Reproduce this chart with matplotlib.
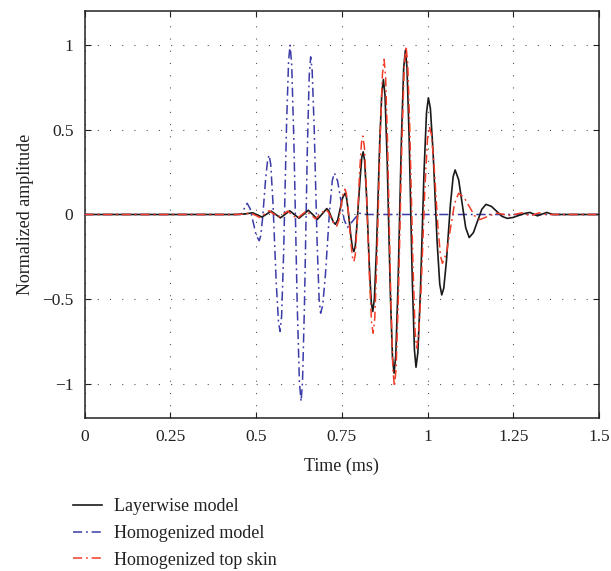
import matplotlib
matplotlib.use("Agg")
import matplotlib.pyplot as plt
from matplotlib.lines import Line2D

# ---------------- data ----------------
x_ticks = [0, 0.25, 0.5, 0.75, 1, 1.25, 1.5]
x_tick_labels = ["0", "0.25", "0.5", "0.75", "1", "1.25", "1.5"]
y_ticks = [-1, -0.5, 0, 0.5, 1]
y_tick_labels = ["\u22121", "\u22120.5", "0", "0.5", "1"]

series_names = ["Layerwise model", "Homogenized model", "Homogenized top skin"]

# Layerwise model (black, solid)
layer_t = [0.0, 0.44, 0.465, 0.490, 0.5035, 0.517, 0.5305, 0.544, 0.5575, 0.571,
           0.5845, 0.598, 0.6115, 0.625, 0.6385, 0.652, 0.6655, 0.679, 0.6925, 0.706,
           0.712, 0.7185, 0.725, 0.731,
           0.738, 0.745, 0.752, 0.759,
           0.763, 0.768, 0.772, 0.776, 0.781, 0.785,
           0.789, 0.794, 0.7985, 0.803, 0.808, 0.812,
           0.8162, 0.8218, 0.826, 0.8302, 0.8358, 0.840,
           0.8447, 0.8509, 0.8555, 0.8602, 0.8664, 0.871,
           0.8757, 0.8819, 0.8865, 0.8912, 0.8974, 0.902,
           0.907, 0.9136, 0.9185, 0.9235, 0.9301, 0.935,
           0.9397, 0.9459, 0.9505, 0.9552, 0.9614, 0.966,
           0.9714, 0.9786, 0.984, 0.9894, 0.9966, 1.002,
           1.0079, 1.0157, 1.0215, 1.0274, 1.0352, 1.041,
           1.0469, 1.0547, 1.0605, 1.0664, 1.0742, 1.080,
           1.0903, 1.1005, 1.1108, 1.121,
           1.1333, 1.1455, 1.1578, 1.170,
           1.1855, 1.201, 1.2165, 1.232,
           1.248, 1.265, 1.282, 1.298, 1.309, 1.320, 1.333, 1.347, 1.365, 1.5]
layer_a = [0.0, 0.0, 0.003, 0.010, -0.002, -0.015, 0.002, 0.020, 0.0, -0.020,
           0.001, 0.022, 0.0, -0.022, 0.001, 0.025, -0.001, -0.028, 0.003, 0.035,
           0.021, -0.012, -0.044, -0.058,
           -0.031, 0.034, 0.098, 0.125,
           0.106, 0.031, -0.047, -0.125, -0.200, -0.219,
           -0.187, -0.058, 0.076, 0.209, 0.338, 0.370,
           0.319, 0.113, -0.102, -0.316, -0.522, -0.573,
           -0.498, -0.199, 0.112, 0.423, 0.722, 0.797,
           0.703, 0.324, -0.070, -0.464, -0.843, -0.937,
           -0.833, -0.416, 0.017, 0.449, 0.866, 0.970,
           0.868, 0.459, 0.034, -0.391, -0.800, -0.902,
           -0.815, -0.468, -0.107, 0.255, 0.602, 0.689,
           0.626, 0.371, 0.107, -0.157, -0.412, -0.475,
           -0.435, -0.274, -0.106, 0.062, 0.223, 0.263,
           0.205, 0.064, -0.078, -0.136,
           -0.107, -0.038, 0.031, 0.060,
           0.048, 0.019, -0.011, -0.023,
           -0.018, -0.006, 0.006, 0.012, 0.002, -0.008, 0.002, 0.012, 0.0, 0.0]

# Homogenized model (blue, dash-dot)
homog_t = [0.0, 0.455, 0.460, 0.465, 0.470, 0.474,
           0.4828, 0.4915, 0.5003, 0.509,
           0.5134, 0.5192, 0.5235, 0.5279, 0.5337, 0.538,
           0.5428, 0.5492, 0.554, 0.5588, 0.5652, 0.570,
           0.5744, 0.5802, 0.5845, 0.5889, 0.5947, 0.599,
           0.6038, 0.6102, 0.615, 0.6198, 0.6262, 0.631,
           0.6352, 0.6408, 0.645, 0.6492, 0.6548, 0.659,
           0.6634, 0.6692, 0.6735, 0.6779, 0.6837, 0.688,
           0.694, 0.702, 0.708, 0.714, 0.722, 0.728,
           0.7375, 0.747, 0.7565, 0.766,
           0.783, 0.800, 0.820, 1.5]
homog_a = [0.0, 0.0, 0.010, 0.033, 0.056, 0.066,
           0.034, -0.045, -0.123, -0.155,
           -0.127, -0.017, 0.098, 0.213, 0.323, 0.351,
           0.294, 0.067, -0.170, -0.407, -0.634, -0.691,
           -0.599, -0.229, 0.155, 0.538, 0.908, 1.000,
           0.885, 0.426, -0.052, -0.530, -0.989, -1.104,
           -0.993, -0.548, -0.087, 0.375, 0.820, 0.931,
           0.849, 0.518, 0.174, -0.170, -0.501, -0.583,
           -0.538, -0.357, -0.169, 0.019, 0.200, 0.245,
           0.198, 0.084, -0.030, -0.077,
           -0.035, 0.008, 0.0, 0.0]

# Homogenized top skin (red, dash-dot)
skin_t = [0.0, 0.44, 0.462, 0.484, 0.4975, 0.511, 0.5245, 0.538, 0.5515, 0.565,
          0.5785, 0.592, 0.6055, 0.619, 0.6325, 0.646, 0.6595, 0.673, 0.6875, 0.702,
          0.710, 0.7185, 0.727, 0.735,
          0.741, 0.747, 0.753, 0.759,
          0.763, 0.768, 0.772, 0.776, 0.781, 0.785,
          0.789, 0.794, 0.798, 0.802, 0.807, 0.811,
          0.8155, 0.8215, 0.826, 0.8305, 0.8365, 0.841,
          0.8458, 0.8522, 0.857, 0.8618, 0.8682, 0.873,
          0.8775, 0.8835, 0.888, 0.8925, 0.8985, 0.903,
          0.9081, 0.9149, 0.920, 0.9251, 0.9319, 0.937,
          0.9417, 0.9479, 0.9525, 0.9572, 0.9634, 0.968,
          0.9736, 0.981, 0.9865, 0.992, 0.9995, 1.005,
          1.0107, 1.0183, 1.024, 1.0297, 1.0373, 1.043,
          1.0548, 1.0665, 1.0783, 1.090,
          1.1055, 1.121, 1.1365, 1.152,
          1.176, 1.200, 1.220, 1.240, 1.2575, 1.275, 1.2875, 1.300, 1.3125, 1.325,
          1.345, 1.5]
skin_a = [0.0, 0.0, 0.002, 0.008, -0.004, -0.018, 0.002, 0.022, 0.003, -0.015,
          0.002, 0.020, -0.002, -0.025, -0.002, 0.020, -0.002, -0.025, 0.002, 0.030,
          0.016, -0.019, -0.054, -0.068,
          -0.036, 0.041, 0.117, 0.149,
          0.126, 0.032, -0.065, -0.161, -0.255, -0.278,
          -0.238, -0.076, 0.093, 0.261, 0.423, 0.463,
          0.400, 0.145, -0.119, -0.383, -0.638, -0.701,
          -0.613, -0.260, 0.108, 0.475, 0.828, 0.916,
          0.811, 0.389, -0.050, -0.489, -0.911, -1.016,
          -0.907, -0.467, -0.011, 0.445, 0.885, 0.994,
          0.897, 0.507, 0.103, -0.302, -0.692, -0.789,
          -0.718, -0.432, -0.136, 0.161, 0.447, 0.518,
          0.474, 0.298, 0.115, -0.068, -0.244, -0.288,
          -0.228, -0.082, 0.065, 0.125,
          0.102, 0.048, -0.007, -0.030,
          -0.011, 0.008, 0.001, -0.006, 0.002, 0.010, 0.001, -0.008, 0.001, 0.010,
          0.0, 0.0]

# ---------------- figure ----------------
plt.rcParams["font.family"] = ["Liberation Serif", "DejaVu Serif"]
plt.rcParams["axes.unicode_minus"] = True

fig = plt.figure(figsize=(6.11, 5.71), dpi=100)
ax = fig.add_axes([0.1383, 0.2685, 0.8425, 0.7117])

black = "#1a1a1a"
blue = "#3c3ca8"
red = "#f03c28"
dashdot = (0, (6, 2.5, 1.2, 2.5))

l_homog, = ax.plot(homog_t, homog_a, color=blue, lw=1.1, linestyle=dashdot, zorder=3)
l_layer, = ax.plot(layer_t, layer_a, color=black, lw=1.2, linestyle="-", zorder=4)
l_skin, = ax.plot(skin_t, skin_a, color=red, lw=1.1, linestyle=dashdot, zorder=5)

ax.set_xlim(0, 1.5)
ax.set_ylim(-1.2, 1.2)
ax.set_xticks(x_ticks)
ax.set_xticklabels(x_tick_labels)
ax.set_yticks(y_ticks)
ax.set_yticklabels(y_tick_labels)

ax.grid(True, color="#555555", linestyle=(0, (1, 10)), linewidth=0.8)
ax.tick_params(direction="in", length=4, width=0.8, labelsize=12.5,
               top=True, right=True, colors="#222222")
ax.tick_params(axis="x", pad=8)
ax.tick_params(axis="y", pad=8)
for s in ax.spines.values():
    s.set_linewidth(1.1)
    s.set_color("#222222")

ax.set_xlabel("Time (ms)", fontsize=13, color="#222222", labelpad=9)
ax.set_ylabel("Normalized amplitude", fontsize=13, color="#222222", labelpad=6)

handles = [Line2D([], [], color=black, lw=1.2),
           Line2D([], [], color=blue, lw=1.1, linestyle=dashdot),
           Line2D([], [], color=red, lw=1.1, linestyle=dashdot)]
fig.legend(handles, series_names, loc="upper left",
           bbox_to_anchor=(0.119, 0.128), frameon=False, fontsize=13,
           handlelength=1.6, handletextpad=0.7, labelspacing=0.55,
           borderpad=0, borderaxespad=0, labelcolor="#222222")

fig.savefig("out.png", dpi=100)
